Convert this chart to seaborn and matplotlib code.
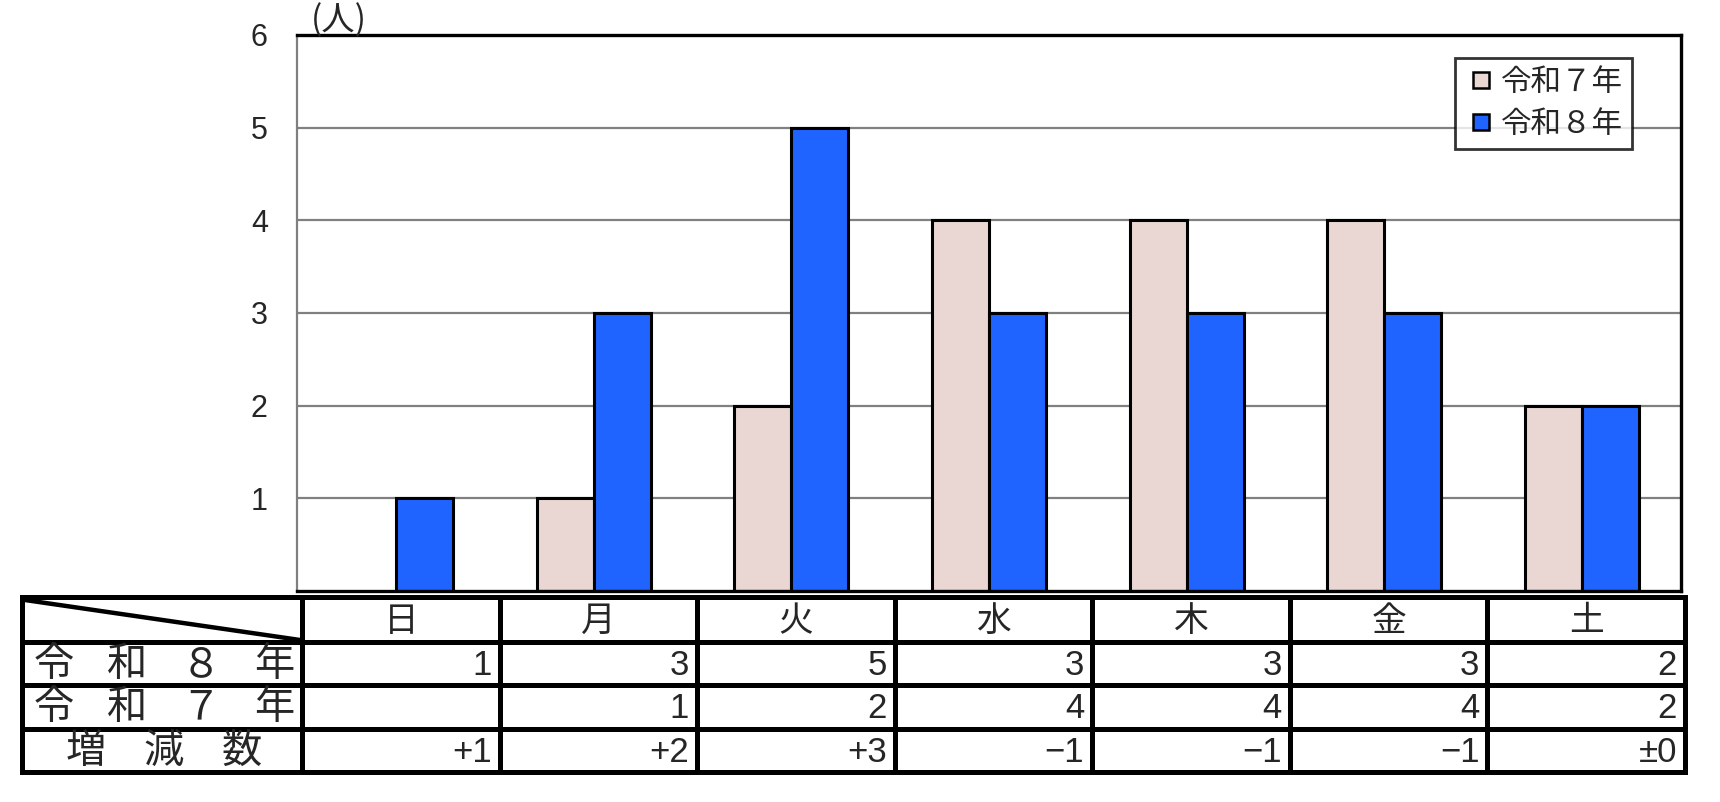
import numpy as np
import pandas as pd
import matplotlib
matplotlib.use("Agg")
import matplotlib.pyplot as plt
from matplotlib.lines import Line2D
import seaborn as sns

# ---- data ----
days = ["日", "月", "火", "水", "木", "金", "土"]
r8_counts = [1, 3, 5, 3, 3, 3, 2]
r7_counts = [np.nan, 1, 2, 4, 4, 4, 2]
series_labels = ["令和７年", "令和８年"]
row_labels = ["令和８年", "令和７年", "増減数"]
y_ticks = [1, 2, 3, 4, 5, 6]
unit_label = "(人)"

pink = "#EAD7D4"
blue = "#1F64FF"
grid_gray = "#808080"

sns.set_theme(style="white")
plt.rcParams["font.family"] = ["Liberation Sans", "Noto Sans CJK JP", "DejaVu Sans"]
cjk = ["Noto Sans CJK JP", "DejaVu Sans"]
num_font = ["Liberation Sans", "Noto Sans CJK JP"]

W, H = 1720, 802
fig = plt.figure(figsize=(W / 100, H / 100), dpi=100)
fig.patch.set_facecolor("white")

# ---- bar chart ----
ax = fig.add_axes([297 / W, 1 - 591 / H, (1681 - 297) / W, (591 - 35) / H])

df = pd.DataFrame({
    "曜日": days * 2,
    "年": [series_labels[0]] * len(days) + [series_labels[1]] * len(days),
    "人数": list(r7_counts) + list(r8_counts),
}).dropna()

sns.barplot(data=df, x="曜日", y="人数", hue="年", order=days,
            hue_order=series_labels, palette=[pink, blue],
            width=0.576, gap=0, edgecolor="black", linewidth=2.2,
            errorbar=None, ax=ax, legend=False, saturation=1)

ax.set_xlim(-0.5, len(days) - 0.5)
ax.set_ylim(0, 6)
ax.set_yticks(y_ticks)
ax.set_yticklabels([str(t) for t in y_ticks], fontsize=22, family=num_font)
ax.tick_params(axis="y", length=0, pad=21)
ax.set_xticks([])
ax.set_xlabel("")
ax.set_ylabel("")
ax.set_axisbelow(True)
ax.yaxis.grid(True, color=grid_gray, linewidth=1.6)
ax.xaxis.grid(False)
for side in ("top", "right", "bottom"):
    ax.spines[side].set_color("black")
    ax.spines[side].set_linewidth(2.4)
ax.spines["left"].set_color(grid_gray)
ax.spines["left"].set_linewidth(1.6)

fig.text(311 / W, 1 - 21 / H, unit_label, fontsize=24, family=cjk,
         ha="left", va="center")

handles = [Line2D([], [], marker="s", linestyle="none", markersize=12,
                  markerfacecolor=c, markeredgecolor="black",
                  markeredgewidth=1.8) for c in (pink, blue)]
leg = ax.legend(handles, series_labels, loc="upper right",
                bbox_to_anchor=(1632 / W, 1 - 58 / H),
                bbox_transform=fig.transFigure, borderaxespad=0,
                frameon=True, fancybox=False, handlelength=1.1,
                handletextpad=0.1, borderpad=0.3, labelspacing=0.35,
                prop={"family": cjk, "size": 22})
leg.get_frame().set_edgecolor("black")
leg.get_frame().set_linewidth(2.0)

# ---- data table below ----
tab = fig.add_axes([0, 0, 1, 1])
tab.set_xlim(0, W)
tab.set_ylim(H, 0)
tab.axis("off")
tab.patch.set_alpha(0)

col_w = (1685 - 302) / len(days)
col_edges = [22, 302] + [302 + col_w * (i + 1) for i in range(len(days))]
row_edges = [597, 642, 685, 729, 772]
lw = 3.6
kw = dict(color="black", linewidth=lw, solid_capstyle="projecting")
for x in col_edges:
    tab.plot([x, x], [row_edges[0], row_edges[-1]], **kw)
for y in row_edges:
    tab.plot([col_edges[0], col_edges[-1]], [y, y], **kw)
tab.plot([col_edges[0] + 3, col_edges[1] - 2], [row_edges[0] + 3, row_edges[1] - 2],
         color="black", linewidth=3.2)

row_mid = [(row_edges[i] + row_edges[i + 1]) / 2 for i in range(len(row_edges) - 1)]

# header: day names
for i, d in enumerate(days):
    cx = (col_edges[i + 1] + col_edges[i + 2]) / 2
    tab.text(cx, row_mid[0] + 2, d, fontsize=25, family=cjk,
             ha="center", va="center")

# row labels spread across the first column
spans = {4: (54, 274), 3: (86, 242)}
for r, lab in enumerate(row_labels):
    xs = np.linspace(*spans[len(lab)], len(lab))
    for ch, x in zip(lab, xs):
        tab.text(x, row_mid[r + 1] + 1, ch, fontsize=29, family=cjk,
                 ha="center", va="center")


def fmt_diff(v):
    if v > 0:
        return f"+{v}"
    if v < 0:
        return f"\u2212{-v}"
    return "±0"


r7_text = ["" if np.isnan(v) else str(int(v)) for v in r7_counts]
r8_text = [str(v) for v in r8_counts]
diffs = [int(a - (0 if np.isnan(b) else b)) for a, b in zip(r8_counts, r7_counts)]
diff_text = [fmt_diff(v) for v in diffs]

for r, texts in enumerate([r8_text, r7_text, diff_text]):
    for i, t in enumerate(texts):
        xr = col_edges[i + 2] - 8
        tab.text(xr, row_mid[r + 1] + 2, t, fontsize=25, family=num_font,
                 ha="right", va="center")

fig.savefig("out.png", dpi=100, facecolor="white")
